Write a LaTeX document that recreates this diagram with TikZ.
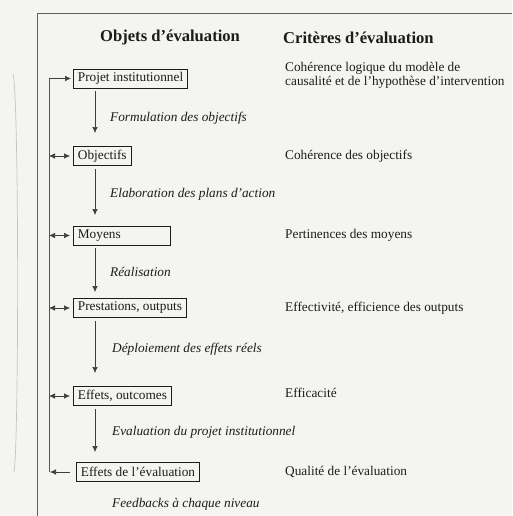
\documentclass[tikz,border=0pt]{standalone}
\usepackage{fontspec}
\setmainfont{Liberation Serif}
\usetikzlibrary{arrows.meta}
\definecolor{paper}{HTML}{F4F4F1}
\definecolor{ink}{HTML}{1C1C1C}
\definecolor{pencil}{HTML}{C4C4C0}
\tikzset{
  objbox/.style={draw=ink, line width=0.8pt, anchor=west, inner xsep=4.5pt, inner ysep=0pt,
    minimum height=19pt, text=ink, font=\fontsize{13.3}{15}\selectfont},
  steplabel/.style={anchor=west, inner sep=0pt, text=ink, font=\fontsize{13.3}{15}\selectfont\itshape},
  crit/.style={anchor=west, inner sep=0pt, text=ink, align=left, font=\fontsize{13.3}{15}\selectfont},
  headtxt/.style={anchor=west, inner sep=0pt, text=ink, font=\fontsize{16.6}{19}\selectfont\bfseries},
  flow/.style={draw=ink!85, line width=0.6pt, -{Latex[length=6pt,width=5.5pt]}},
  fb/.style={draw=ink!75, line width=0.6pt},
  fbarrow/.style={draw=ink!85, line width=0.6pt, {Latex[length=6pt,width=5.5pt]}-{Latex[length=6pt,width=5.5pt]}},
}
\begin{document}
\begin{tikzpicture}[x=1pt,y=-1pt]
\fill[paper] (0,0) rectangle (512,516);
\useasboundingbox (0,0) rectangle (512,516);
% pencil mark
\draw[pencil, line width=0.7pt] (13,74) .. controls (19,95) and (19,445) .. (14,472);
% frame
\draw[ink!70, line width=0.7pt] (512,13) -- (37,13) -- (37,516);
% headings
\node[headtxt] (h1) at (100,38) {Objets d’évaluation};
\node[headtxt] (h2) at (283,38) {Critères d’évaluation};
% boxes
\node[objbox] (b1) at (73,78.5) {Projet institutionnel};
\node[objbox] (b2) at (73,156) {Objectifs};
\node[objbox, text width=88pt, align=left] (b3) at (73,235.5) {Moyens};
\node[objbox] (b4) at (73,308) {Prestations, outputs};
\node[objbox] (b5) at (73,396) {Effets, outcomes};
\node[objbox] (b6) at (76,472) {Effets de l’évaluation};
% step labels
\node[steplabel] (l1) at (110,118) {Formulation des objectifs};
\node[steplabel] (l2) at (110,194) {Elaboration des plans d’action};
\node[steplabel] (l3) at (110,272) {Réalisation};
\node[steplabel] (l4) at (112,349) {Déploiement des effets réels};
\node[steplabel] (l5) at (112,432) {Evaluation du projet institutionnel};
\node[steplabel] (l6) at (112,504) {Feedbacks à chaque niveau};
% criteria
\node[crit] (c1) at (285,75.5) {Cohérence logique du modèle de\\[-1pt]causalité et de l’hypothèse d’intervention};
\node[crit] (c2) at (285,156) {Cohérence des objectifs};
\node[crit] (c3) at (285,235) {Pertinences des moyens};
\node[crit] (c4) at (285,308) {Effectivité, efficience des outputs};
\node[crit] (c5) at (285,393) {Efficacité};
\node[crit] (c6) at (285,472) {Qualité de l’évaluation};
% flow arrows
\coordinate (ax) at (95,0);
\coordinate (t1) at (95,133);
\coordinate (t2) at (95,215);
\coordinate (t3) at (95,292);
\coordinate (t4) at (95,373);
\coordinate (t5) at (95,452);
\draw[flow, shorten <=3pt] (ax |- b1.south) -- (t1);
\draw[flow, shorten <=3pt] (ax |- b2.south) -- (t2);
\draw[flow, shorten <=3pt] (ax |- b3.south) -- (t3);
\draw[flow, shorten <=3pt] (ax |- b4.south) -- (t4);
\draw[flow, shorten <=3pt] (ax |- b5.south) -- (t5);
% feedback loop
\coordinate (fx) at (49,0);
\coordinate (f1) at (fx |- b1.west);
\coordinate (f2) at (fx |- b2.west);
\coordinate (f3) at (fx |- b3.west);
\coordinate (f4) at (fx |- b4.west);
\coordinate (f5) at (fx |- b5.west);
\coordinate (f6) at (fx |- b6.west);
\draw[fb] (f1) -- (f6);
\draw[flow, shorten >=2pt] (f1) -- (b1.west);
\draw[fbarrow, shorten >=3pt] (f2) -- (b2.west);
\draw[fbarrow, shorten >=3pt] (f3) -- (b3.west);
\draw[fbarrow, shorten >=3pt] (f4) -- (b4.west);
\draw[fbarrow, shorten >=3pt] (f5) -- (b5.west);
\draw[flow, shorten <=6pt, shorten >=1pt] (b6.west) -- (f6);
\end{tikzpicture}
\end{document}
